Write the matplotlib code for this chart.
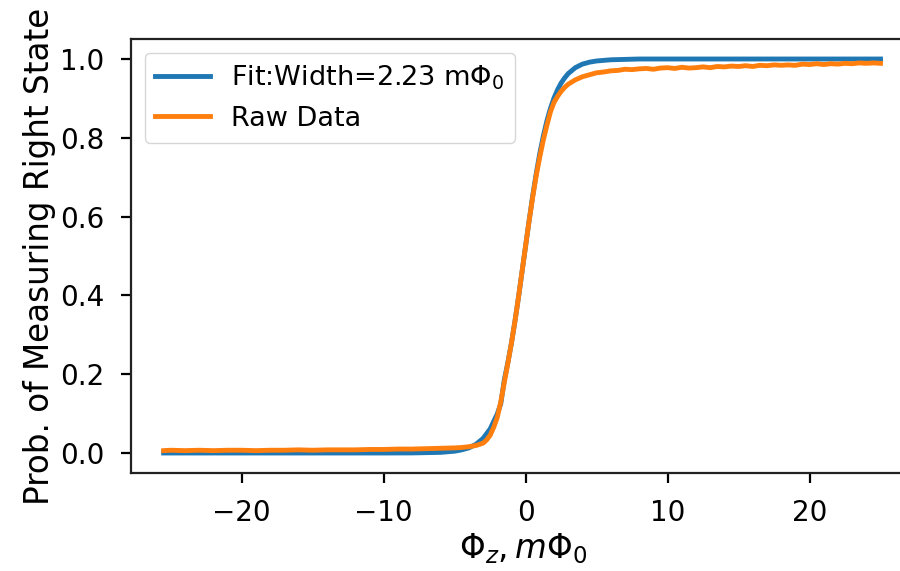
import matplotlib
matplotlib.use('Agg')
import matplotlib.pyplot as plt

# fitted curve
fit_x = [-25.5, -20, -15, -10, -8, -6, -5, -4.5, -4, -3.5, -3, -2.5, -2, -1.75,
         -1.5, -1.25, -1, -0.75, -0.5, -0.25, 0, 0.25, 0.5, 0.75, 1, 1.25, 1.5,
         1.75, 2, 2.25, 2.5, 2.75, 3, 3.5, 4, 4.5, 5, 6, 7, 8, 10, 15, 20, 25]
fit_y = [0.0, 0.0, 0.0, 0.0, 0.0002, 0.0016, 0.0046, 0.008, 0.013, 0.022, 0.037,
         0.061, 0.099, 0.125, 0.186, 0.23, 0.279, 0.335, 0.396, 0.461, 0.526,
         0.591, 0.653, 0.71, 0.761, 0.805, 0.843, 0.875, 0.901, 0.922, 0.939,
         0.952, 0.963, 0.978, 0.987, 0.992, 0.995, 0.998, 0.999, 1.0, 1.0, 1.0,
         1.0, 1.0]

# raw measurement
raw_x = [-25.5, -25, -24, -23, -22, -21, -20, -19, -18, -17, -16, -15, -14, -13,
         -12, -11, -10, -9, -8, -7, -6, -5, -4.5, -4, -3.5, -3, -2.75, -2.5,
         -2.25, -2, -1.75, -1.5, -1.25, -1, -0.75, -0.5, -0.25, 0, 0.25, 0.5,
         0.75, 1, 1.25, 1.5, 1.75, 2, 2.25, 2.5, 2.75, 3, 3.5, 4, 4.5, 5,
         5.5, 6, 6.5, 7, 7.5, 8, 8.5, 9, 9.5, 10, 10.5, 11, 11.5, 12, 12.5, 13,
         13.5, 14, 14.5, 15, 15.5, 16, 16.5, 17, 17.5, 18, 18.5, 19, 19.5, 20,
         20.5, 21, 21.5, 22, 22.5, 23, 23.5, 24, 24.5, 25]
raw_y = [0.006, 0.007, 0.006, 0.007, 0.006, 0.007, 0.007, 0.006, 0.007, 0.007,
         0.008, 0.007, 0.008, 0.008, 0.008, 0.009, 0.009, 0.010, 0.010, 0.011,
         0.012, 0.013, 0.014, 0.016, 0.019, 0.025, 0.033, 0.045, 0.065, 0.09,
         0.13, 0.18, 0.228, 0.279, 0.335, 0.396, 0.461, 0.526, 0.59, 0.65,
         0.705, 0.752, 0.795, 0.832, 0.866, 0.89, 0.905, 0.918, 0.928, 0.936,
         0.947, 0.955, 0.960, 0.965,
         0.967, 0.970, 0.971, 0.974, 0.973, 0.975, 0.976, 0.974, 0.977, 0.978,
         0.976, 0.979, 0.977, 0.978, 0.980, 0.978, 0.981, 0.980, 0.982, 0.981,
         0.983, 0.981, 0.984, 0.983, 0.985, 0.984, 0.985, 0.984, 0.987, 0.986,
         0.988, 0.986, 0.988, 0.987, 0.989, 0.988, 0.990, 0.989, 0.990, 0.989]

fit_label = r'Fit:Width=2.23 m$\Phi_0$'
raw_label = 'Raw Data'

plt.rcParams['axes.edgecolor'] = '#222222'
plt.rcParams['axes.linewidth'] = 1.6

fig = plt.figure(figsize=(9, 5.71), dpi=100)
ax = fig.add_axes([131 / 900, (571 - 472.7) / 571, (916 - 131) / 900, (472.7 - 39.3) / 571])

ax.plot(fit_x, fit_y, color='#1f77b4', lw=3.5, label=fit_label)
ax.plot(raw_x, raw_y, color='#ff7f0e', lw=3.5, label=raw_label)

ax.set_xlim(-27.8, 27.5)
ax.set_ylim(-0.05, 1.05)
ax.set_xticks([-20, -10, 0, 10, 20])
ax.set_yticks([0.0, 0.2, 0.4, 0.6, 0.8, 1.0])
ax.tick_params(labelsize=20, length=7, width=1.6, pad=12)

ax.set_xlabel(r'$\Phi_z, m\Phi_0$', fontsize=23.5, labelpad=3)
ax.set_ylabel('Prob. of Measuring Right State', fontsize=23.5, labelpad=3)

ax.legend(loc='upper left', fontsize=19.5)

fig.savefig('out.png', dpi=100)
